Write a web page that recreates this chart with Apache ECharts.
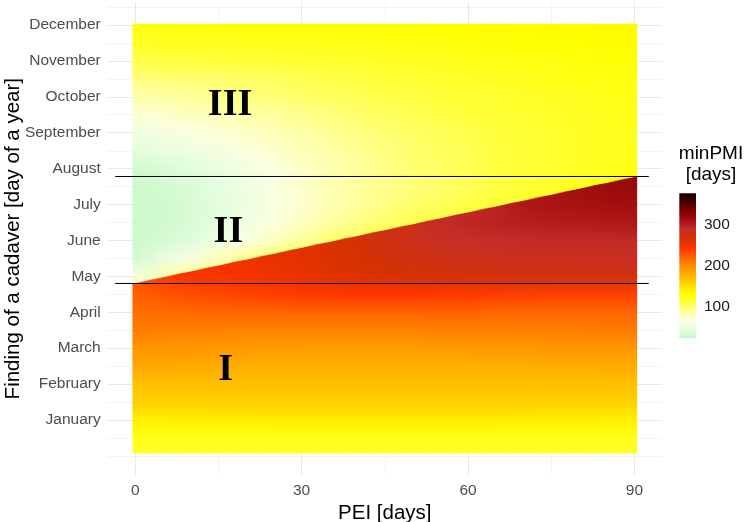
<!DOCTYPE html>
<html>
<head>
<meta charset="utf-8">
<title>minPMI by PEI and day of finding</title>
<script src="https://cdn.jsdelivr.net/npm/echarts@6/dist/echarts.min.js"></script>
<style>
  html, body { margin: 0; padding: 0; background: #fff; }
  #chart { width: 749px; height: 522px; }
</style>
</head>
<body>
<div id="chart"></div>
<script>
// ---- axes / ticks ----
const peiTicks = [0, 30, 60, 90];
const minorPeiTicks = [15, 45, 75];
const monthNames = ['January', 'February', 'March', 'April', 'May', 'June',
  'July', 'August', 'September', 'October', 'November', 'December'];
const monthTickDays = [30.4, 60.8, 91.3, 121.7, 152.1, 182.5, 212.9, 243.3, 273.8, 304.2, 334.6, 365.0];
const minorDayTicks = [0, 15.2, 45.6, 76.0, 106.5, 136.9, 167.3, 197.7, 228.1, 258.5, 289.0, 319.4, 349.8, 380.2];
const legendTicks = [100, 200, 300];
const legendMin = 24;
const legendMax = 376;
// colour scale, evenly spread from legendMin to legendMax
const pmiPalette = ['#c8f8c8', '#e6fde0', '#fbffe0', '#ffff9a', '#ffff38', '#ffff00', '#ffd400',
  '#ffb000', '#ff8c00', '#ff5e00', '#ff3300', '#d63200', '#c62e2a', '#a51010', '#850000', '#480000', '#140000'];

// ---- heatmap samples ----
// PEI columns and the strip edges around them
const peiDays = [0, 5, 10, 15, 20, 25, 30, 35, 40, 45, 50, 55, 60, 65, 70, 75, 80, 85, 90];
const stripEdges = [-0.5, 2.5, 7.5, 12.5, 17.5, 22.5, 27.5, 32.5, 37.5, 42.5, 47.5, 52.5, 57.5,
  62.5, 67.5, 72.5, 77.5, 82.5, 87.5, 90.5];
// sampled days (rows); one array of minPMI per row, one value per PEI column
const rowDays = [2, 16, 30, 45, 61, 76, 91, 106, 122, 137, 152, 167, 182, 198, 213, 228,
  243, 258, 274, 289, 304, 319, 335, 350, 366];
const pmiDay002 = [115, 115, 116, 116, 116, 116, 116, 116, 116, 116, 116, 116, 116, 116, 116, 116, 116, 115, 115];
const pmiDay016 = [125, 125, 126, 126, 126, 126, 126, 126, 126, 126, 126, 126, 126, 126, 126, 126, 126, 125, 125];
const pmiDay030 = [141, 141, 142, 142, 142, 143, 143, 143, 143, 143, 143, 143, 143, 143, 142, 142, 142, 141, 141];
const pmiDay045 = [158, 158, 158, 159, 159, 159, 159, 159, 159, 159, 159, 159, 159, 159, 159, 158, 158, 158, 158];
const pmiDay061 = [169, 169, 168, 168, 168, 168, 168, 168, 168, 168, 168, 168, 168, 168, 168, 168, 168, 168, 168];
const pmiDay076 = [184, 183, 182, 181, 180, 179, 178, 178, 178, 178, 178, 178, 179, 179, 180, 180, 180, 181, 181];
const pmiDay091 = [195, 194, 193, 192, 191, 191, 190, 190, 190, 190, 190, 191, 191, 192, 192, 193, 193, 193, 194];
const pmiDay106 = [207, 206, 205, 205, 204, 204, 204, 204, 204, 204, 204, 205, 205, 205, 206, 206, 206, 207, 207];
const pmiDay122 = [214, 216, 217, 218, 219, 219, 220, 220, 220, 220, 220, 220, 220, 219, 219, 218, 218, 218, 218];
const pmiDay137 = [221, 227, 231, 234, 237, 239, 241, 242, 243, 243, 243, 242, 241, 240, 239, 238, 238, 238, 238];
const pmiDay152 = [62, 82, 246, 248, 250, 253, 256, 260, 263, 266, 268, 270, 271, 272, 273, 273, 274, 274, 274];
const pmiDay167 = [33, 48, 64, 80, 94, 256, 260, 264, 267, 271, 274, 277, 279, 280, 281, 282, 283, 283, 284];
const pmiDay182 = [28, 34, 42, 55, 68, 80, 91, 100, 270, 275, 280, 284, 287, 289, 290, 290, 291, 291, 292];
const pmiDay198 = [27, 30, 36, 46, 57, 68, 78, 87, 95, 101, 106, 290, 294, 297, 300, 302, 303, 304, 305];
const pmiDay213 = [27, 30, 35, 44, 55, 65, 74, 82, 89, 95, 100, 104, 109, 112, 304, 307, 309, 311, 313];
const pmiDay228 = [28, 32, 37, 46, 56, 65, 74, 82, 88, 93, 97, 101, 105, 109, 113, 117, 121, 316, 318];
const pmiDay243 = [30, 36, 42, 51, 60, 68, 76, 83, 89, 94, 99, 102, 106, 110, 113, 116, 119, 122, 126];
const pmiDay258 = [44, 48, 54, 60, 67, 74, 80, 86, 91, 96, 100, 103, 106, 110, 113, 116, 119, 121, 123];
const pmiDay274 = [58, 62, 66, 71, 76, 81, 86, 91, 95, 99, 102, 105, 108, 111, 113, 116, 119, 121, 123];
const pmiDay289 = [71, 74, 78, 82, 86, 89, 93, 96, 100, 103, 106, 108, 111, 113, 115, 117, 120, 122, 124];
const pmiDay304 = [84, 87, 90, 93, 96, 98, 101, 103, 106, 108, 110, 112, 114, 116, 118, 120, 122, 124, 126];
const pmiDay319 = [96, 98, 99, 100, 102, 104, 106, 108, 110, 112, 114, 116, 118, 120, 122, 124, 126, 127, 129];
const pmiDay335 = [108, 110, 111, 112, 113, 114, 115, 116, 118, 120, 121, 122, 124, 126, 127, 128, 130, 131, 132];
const pmiDay350 = [120, 121, 122, 122, 123, 124, 124, 125, 126, 127, 128, 129, 130, 131, 132, 133, 134, 135, 135];
const pmiDay366 = [130, 130, 130, 131, 131, 131, 132, 132, 132, 133, 133, 134, 134, 135, 135, 136, 136, 137, 137];
// the diagonal break (day at each strip edge) and the values just below / above it
const boundaryAtEdge = [146.3, 149.3, 154.3, 159.3, 164.3, 169.3, 174.3, 179.3, 184.3, 189.3, 194.3,
  199.3, 204.3, 209.3, 214.3, 219.3, 224.3, 229.3, 234.3, 237.3];
const pmiBelowBoundary = [226, 242, 246, 249, 252, 256, 260, 264, 268, 273, 278, 284, 290, 296, 302, 308, 313, 318, 322];
const pmiAboveBoundary = [78, 86, 90, 93, 96, 98, 100, 102, 104, 106, 108, 110, 112, 114, 116, 119, 122, 125, 128];

// ---- annotations ----
const refLineDays = [146.05, 236.7];
const refLineFrom = -3.6;
const refLineTo = 92.6;
const regionNames = ['I', 'II', 'III'];
const regionPei = [16.3, 16.8, 17.1];
const regionDay = [72.8, 189.6, 297.2];

const pmiRows = [pmiDay002, pmiDay016, pmiDay030, pmiDay045, pmiDay061, pmiDay076, pmiDay091,
  pmiDay106, pmiDay122, pmiDay137, pmiDay152, pmiDay167, pmiDay182, pmiDay198, pmiDay213,
  pmiDay228, pmiDay243, pmiDay258, pmiDay274, pmiDay289, pmiDay304, pmiDay319, pmiDay335,
  pmiDay350, pmiDay366];

const colourOf = (v) => {
  const t = (v - legendMin) / (legendMax - legendMin);
  return echarts.color.lerp(Math.min(1, Math.max(0, t)), pmiPalette);
};

const dayBottom = rowDays[0];
const dayTop = rowDays[rowDays.length - 1];

// vertical gradient of column j, below ('lower') or above ('upper') the break
const columnFill = (api, j, part) => {
  const bLow = Math.min(boundaryAtEdge[j], boundaryAtEdge[j + 1]);
  const bHigh = Math.max(boundaryAtEdge[j], boundaryAtEdge[j + 1]);
  const samples = [];
  if (part === 'upper') samples.push([bLow, pmiAboveBoundary[j]]);
  rowDays.forEach((d, r) => {
    if (part === 'lower' ? d < bLow : d > bHigh) samples.push([d, pmiRows[r][j]]);
  });
  if (part === 'lower') samples.push([bHigh, pmiBelowBoundary[j]]);
  const d0 = part === 'lower' ? dayBottom : bLow;
  const d1 = part === 'lower' ? bHigh : dayTop;
  const y0 = api.coord([0, d0])[1];
  const y1 = api.coord([0, d1])[1];
  const stops = samples.map((s) => ({ offset: (s[0] - d0) / (d1 - d0), color: colourOf(s[1]) }));
  return new echarts.graphic.LinearGradient(0, y0, 0, y1, stops, true);
};

// one vertical strip per PEI column, split at the break; its outer halves are
// blended towards the neighbouring columns so the strips do not show as bands
const BLEND_STEPS = 4;
const renderStrip = (params, api) => {
  const i = params.dataIndex;
  const xL = stripEdges[i];
  const xR = stripEdges[i + 1];
  const bL = boundaryAtEdge[i];
  const bR = boundaryAtEdge[i + 1];
  const breakAt = (x) => bL + (bR - bL) * (x - xL) / (xR - xL);
  const children = [];

  const addPiece = (X0, X1, x0, x1, j, opacity, overlap) => {
    const yb = api.coord([x0, dayBottom])[1];
    const yt = api.coord([x0, dayTop])[1];
    const ym0 = api.coord([x0, breakAt(x0)])[1];
    const ym1 = api.coord([x1, breakAt(x1)])[1];
    children.push({
      type: 'polygon',
      shape: { points: [[X0, yb], [X1, yb], [X1, ym1], [X0, ym0]] },
      style: { fill: columnFill(api, j, 'lower'), opacity },
    });
    children.push({
      type: 'polygon',
      shape: { points: [[X0, ym0 + overlap], [X1, ym1 + overlap], [X1, yt], [X0, yt]] },
      style: { fill: columnFill(api, j, 'upper'), opacity },
    });
  };

  const pxL = api.coord([xL, 0])[0];
  const pxR = api.coord([xR, 0])[0];
  const pad = i < peiDays.length - 1 ? 0.8 : 0;
  addPiece(pxL, pxR + pad, xL, xR, i, 1, 0.6);

  const blendHalf = (a, b, j, fromShare, toShare) => {
    for (let s = 0; s < BLEND_STEPS; s++) {
      const x0 = a + (b - a) * s / BLEND_STEPS;
      const x1 = a + (b - a) * (s + 1) / BLEND_STEPS;
      const X0 = Math.round(api.coord([x0, 0])[0]);
      const X1 = Math.round(api.coord([x1, 0])[0]);
      if (X1 <= X0) continue;
      const share = fromShare + (toShare - fromShare) * (s + 0.5) / BLEND_STEPS;
      addPiece(X0, X1, x0, x1, j, share, 0);
    }
  };
  if (i > 0) blendHalf(xL, peiDays[i], i - 1, 0.5, 0);
  if (i < peiDays.length - 1) blendHalf(peiDays[i], xR, i + 1, 0, 0.5);

  return { type: 'group', children };
};

const renderColourBar = (params, api) => {
  const top = api.coord([0, legendMax]);
  const bottom = api.coord([1, legendMin]);
  const stops = pmiPalette.map((c, k) => ({ offset: k / (pmiPalette.length - 1), color: c }));
  return {
    type: 'rect',
    shape: { x: top[0], y: top[1], width: bottom[0] - top[0], height: bottom[1] - top[1] },
    style: { fill: new echarts.graphic.LinearGradient(0, bottom[1], 0, top[1], stops, true) },
  };
};

const nearestMonth = (v) => {
  let best = 0;
  monthTickDays.forEach((d, k) => { if (Math.abs(d - v) < Math.abs(monthTickDays[best] - v)) best = k; });
  return monthNames[best];
};

const hidden = { show: false };
const majorGrid = { show: true, lineStyle: { color: '#e9e9e9', width: 1 } };
const minorGrid = { show: true, lineStyle: { color: '#f1f1f1', width: 0.8 } };
const tickText = { color: '#4d4d4d', fontSize: 15.5 };

const chart = echarts.init(document.getElementById('chart'), null, { renderer: 'canvas' });

chart.setOption({
  animation: false,
  backgroundColor: '#fff',
  textStyle: { fontFamily: 'Liberation Sans, Arial, sans-serif' },
  grid: [
    { left: 107.2, top: 2.6, width: 555.2, height: 472.2, containLabel: false, outerBoundsMode: 'none' },
    { left: 679.3, top: 193.3, width: 16.7, height: 145, containLabel: false, outerBoundsMode: 'none' },
  ],
  xAxis: [
    {
      gridIndex: 0, type: 'value', min: -5.05, max: 95.05,
      name: 'PEI [days]', nameLocation: 'middle', nameGap: 28, nameMoveOverlap: false,
      nameTextStyle: { color: '#000', fontSize: 20.5 },
      axisLine: hidden,
      axisTick: { show: false, customValues: peiTicks },
      axisLabel: { ...tickText, margin: 8, customValues: peiTicks },
      splitLine: majorGrid,
    },
    {
      gridIndex: 0, type: 'value', min: -5.05, max: 95.05, position: 'top',
      axisLine: hidden,
      axisTick: { show: false, customValues: minorPeiTicks },
      axisLabel: { show: false, customValues: minorPeiTicks },
      splitLine: minorGrid,
    },
    { gridIndex: 1, type: 'value', min: 0, max: 1, show: false },
  ],
  yAxis: [
    {
      gridIndex: 0, type: 'value', min: -16, max: 384,
      name: 'Finding of a cadaver [day of a year]', nameLocation: 'middle', nameGap: 83, nameMoveOverlap: false,
      nameTextStyle: { color: '#000', fontSize: 20.5 },
      axisLine: hidden,
      axisTick: { show: false, customValues: monthTickDays },
      axisLabel: { ...tickText, margin: 6.5, customValues: monthTickDays, formatter: nearestMonth },
      splitLine: majorGrid,
    },
    {
      gridIndex: 0, type: 'value', min: -16, max: 384, position: 'right',
      axisLine: hidden,
      axisTick: { show: false, customValues: minorDayTicks },
      axisLabel: { show: false, customValues: minorDayTicks },
      splitLine: minorGrid,
    },
    {
      gridIndex: 1, type: 'value', min: legendMin, max: legendMax, position: 'right',
      axisLine: hidden,
      axisTick: { show: false, customValues: legendTicks },
      axisLabel: { color: '#1a1a1a', fontSize: 15.5, margin: 8, customValues: legendTicks },
      splitLine: hidden,
    },
  ],
  graphic: [
    {
      type: 'text', x: 711, y: 143.5, silent: true,
      style: {
        text: 'minPMI\n[days]', fill: '#000', fontSize: 19, lineHeight: 21,
        fontFamily: 'Liberation Sans, Arial, sans-serif', align: 'center', verticalAlign: 'top',
      },
    },
  ],
  series: [
    {
      name: 'minPMI',
      type: 'custom',
      xAxisIndex: 0, yAxisIndex: 0,
      silent: true,
      data: peiDays.map((p, i) => [p, i]),
      renderItem: renderStrip,
      z: 1,
    },
    ...refLineDays.map((d) => ({
      type: 'line',
      xAxisIndex: 0, yAxisIndex: 0,
      data: [[refLineFrom, d], [refLineTo, d]],
      symbol: 'none',
      silent: true,
      lineStyle: { color: '#000', width: 1 },
      z: 5,
    })),
    {
      type: 'scatter',
      xAxisIndex: 0, yAxisIndex: 0,
      silent: true,
      symbolSize: 1,
      itemStyle: { color: 'rgba(0,0,0,0)', opacity: 1 },
      data: regionNames.map((n, k) => ({ name: n, value: [regionPei[k], regionDay[k]] })),
      label: {
        show: true, position: 'inside', formatter: '{b}', color: '#000', textBorderWidth: 0,
        fontFamily: 'Liberation Serif, Times New Roman, serif', fontWeight: 'bold', fontSize: 38,
      },
      z: 6,
    },
    {
      type: 'custom',
      xAxisIndex: 2, yAxisIndex: 2,
      silent: true,
      data: [[0, legendMin]],
      renderItem: renderColourBar,
    },
  ],
});
</script>
</body>
</html>
